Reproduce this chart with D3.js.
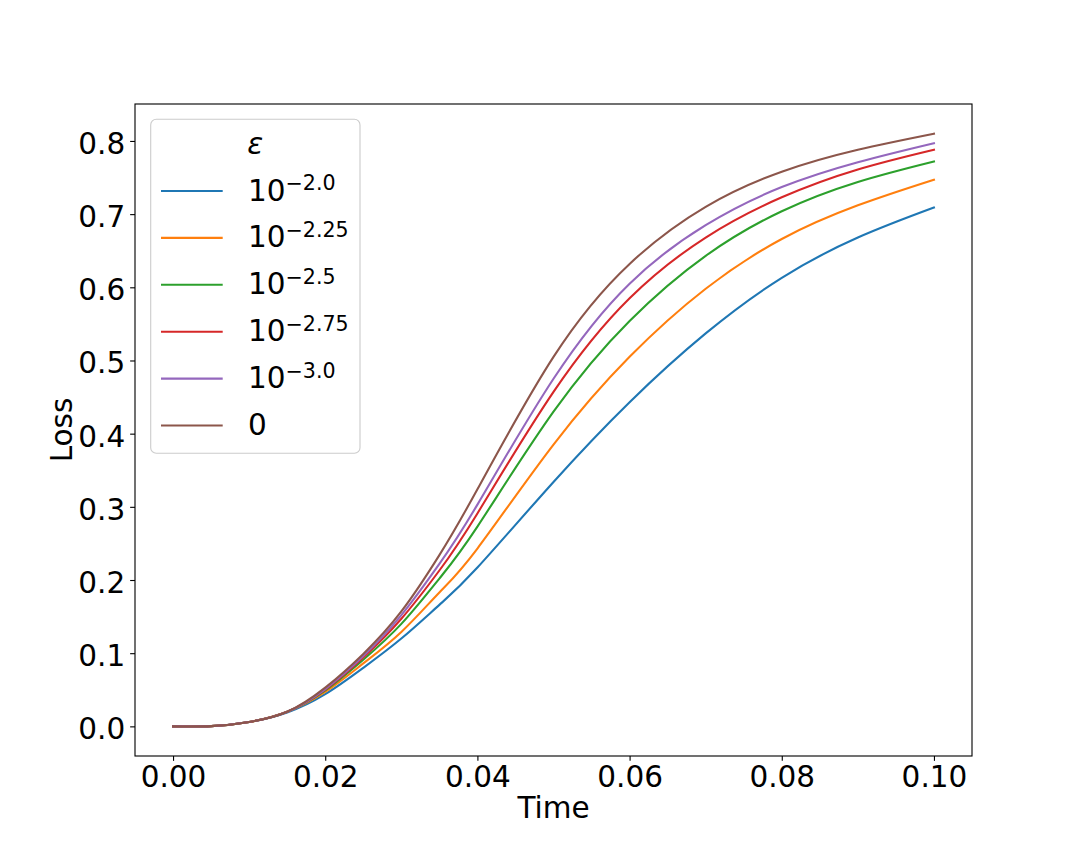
<!DOCTYPE html>
<html>
<head>
<meta charset="utf-8">
<script src="https://cdn.jsdelivr.net/npm/d3@7"></script>
<style>
  body { margin: 0; background: #fff; }
  svg { display: block; }
  text { font-family: "DejaVu Sans", sans-serif; fill: #000; }
</style>
</head>
<body>
<svg id="chart" width="1080" height="864"></svg>
<script>
// ---- data ----
const times = [0, 0.005, 0.01, 0.015, 0.02, 0.025, 0.03, 0.035, 0.04, 0.05, 0.06, 0.07, 0.08, 0.09, 0.1];
const lossEps2_0  = [0, 0.0003, 0.006, 0.019, 0.044, 0.080, 0.120, 0.166, 0.217, 0.334, 0.443, 0.537, 0.613, 0.668, 0.709];
const lossEps2_25 = [0, 0.0003, 0.006, 0.020, 0.047, 0.086, 0.129, 0.183, 0.243, 0.385, 0.505, 0.598, 0.666, 0.712, 0.747];
const lossEps2_5  = [0, 0.0003, 0.006, 0.020, 0.049, 0.091, 0.140, 0.202, 0.273, 0.430, 0.554, 0.643, 0.704, 0.744, 0.772];
const lossEps2_75 = [0, 0.0003, 0.006, 0.020, 0.050, 0.094, 0.147, 0.213, 0.291, 0.457, 0.585, 0.668, 0.723, 0.761, 0.788];
const lossEps3_0  = [0, 0.0003, 0.006, 0.020, 0.051, 0.096, 0.152, 0.222, 0.303, 0.475, 0.605, 0.685, 0.737, 0.771, 0.797];
const lossEps0    = [0, 0.0003, 0.006, 0.020, 0.053, 0.099, 0.157, 0.234, 0.324, 0.505, 0.632, 0.710, 0.758, 0.788, 0.810];
const seriesBase = ["10", "10", "10", "10", "10", "0"];
const seriesExp  = ["\u22122.0", "\u22122.25", "\u22122.5", "\u22122.75", "\u22123.0", ""];
const seriesColors = ["#1f77b4", "#ff7f0e", "#2ca02c", "#d62728", "#9467bd", "#8c564b"];
const xTicks = [0, 0.02, 0.04, 0.06, 0.08, 0.10];
const yTicks = [0, 0.1, 0.2, 0.3, 0.4, 0.5, 0.6, 0.7, 0.8];
const legendTitle = "\u03b5";
const xLabel = "Time";
const yLabel = "Loss";

const seriesValues = [lossEps2_0, lossEps2_25, lossEps2_5, lossEps2_75, lossEps3_0, lossEps0];

// ---- layout ----
const L = 135, R = 972, T = 104, B = 756;
const svg = d3.select("#chart");
const fs = 29.5;

const xMin = 0, xMax = d3.max(times);
const xPad = (xMax - xMin) * 0.05;
const yMin = 0, yMax = d3.max(seriesValues.flat());
const yPad = (yMax - yMin) * 0.05;

const x = d3.scaleLinear().domain([xMin - xPad, xMax + xPad]).range([L, R]);
const y = d3.scaleLinear().domain([yMin - yPad, yMax + yPad]).range([B, T]);

// lines
const line = d3.line().x(d => x(d[0])).y(d => y(d[1])).curve(d3.curveNatural);
const plot = svg.append("g");
seriesValues.forEach((vals, i) => {
  plot.append("path")
    .datum(times.map((t, j) => [t, vals[j]]))
    .attr("d", line)
    .attr("fill", "none")
    .attr("stroke", seriesColors[i])
    .attr("stroke-width", 2.08)
    .attr("stroke-linejoin", "round")
    .attr("stroke-linecap", "square");
});

// axes
const xAxis = d3.axisBottom(x).tickValues(xTicks).tickFormat(d3.format(".2f")).tickSizeInner(4.86).tickSizeOuter(0).tickPadding(4.9);
const yAxis = d3.axisLeft(y).tickValues(yTicks).tickFormat(d3.format(".1f")).tickSizeInner(4.86).tickSizeOuter(0).tickPadding(4.9);

const gx = svg.append("g").attr("transform", `translate(0,${B})`).call(xAxis);
const gy = svg.append("g").attr("transform", `translate(${L},0)`).call(yAxis);
[gx, gy].forEach(g => {
  g.select(".domain").remove();
  g.selectAll(".tick line").attr("stroke", "#000").attr("stroke-width", 1.11);
  g.selectAll(".tick text").attr("font-family", "DejaVu Sans").attr("font-size", fs).attr("fill", "#000");
});
gx.selectAll(".tick text").attr("dy", null).attr("y", 30.5);
gy.selectAll(".tick text").attr("dy", null).attr("y", 12.5).attr("x", -9.8);

// spines
svg.append("rect")
  .attr("x", L).attr("y", T).attr("width", R - L).attr("height", B - T)
  .attr("fill", "none").attr("stroke", "#000").attr("stroke-width", 1.11);

// axis labels
svg.append("text").attr("x", (L + R) / 2).attr("y", 818)
  .attr("text-anchor", "middle").attr("font-size", fs).text(xLabel);
svg.append("text")
  .attr("transform", `translate(72,${(T + B) / 2}) rotate(-90)`)
  .attr("text-anchor", "middle").attr("font-size", fs).text(yLabel);

// legend
const lg = svg.append("g");
const lx0 = 150.7, ly0 = 119.3, lw = 209.3, lh = 334;
lg.append("rect")
  .attr("x", lx0).attr("y", ly0).attr("width", lw).attr("height", lh)
  .attr("rx", 5.6).attr("ry", 5.6)
  .attr("fill", "#fff").attr("fill-opacity", 0.8)
  .attr("stroke", "#cccccc").attr("stroke-width", 1.11);
lg.append("text")
  .attr("x", lx0 + lw / 2).attr("y", 153.5)
  .attr("text-anchor", "middle").attr("font-size", fs).attr("font-style", "italic")
  .text(legendTitle);

const rowY0 = 191, rowStep = 46.9;
seriesValues.forEach((vals, i) => {
  const ry = rowY0 + i * rowStep;
  lg.append("line")
    .attr("x1", 161).attr("x2", 222.7).attr("y1", ry).attr("y2", ry)
    .attr("stroke", seriesColors[i]).attr("stroke-width", 2.08);
  const t = lg.append("text").attr("x", 248).attr("y", ry + 9.5).attr("font-size", fs);
  t.append("tspan").text(seriesBase[i]);
  if (seriesExp[i]) {
    t.append("tspan").attr("dy", -10.5).attr("font-size", 20.6).text(seriesExp[i]);
  }
});
</script>
</body>
</html>
